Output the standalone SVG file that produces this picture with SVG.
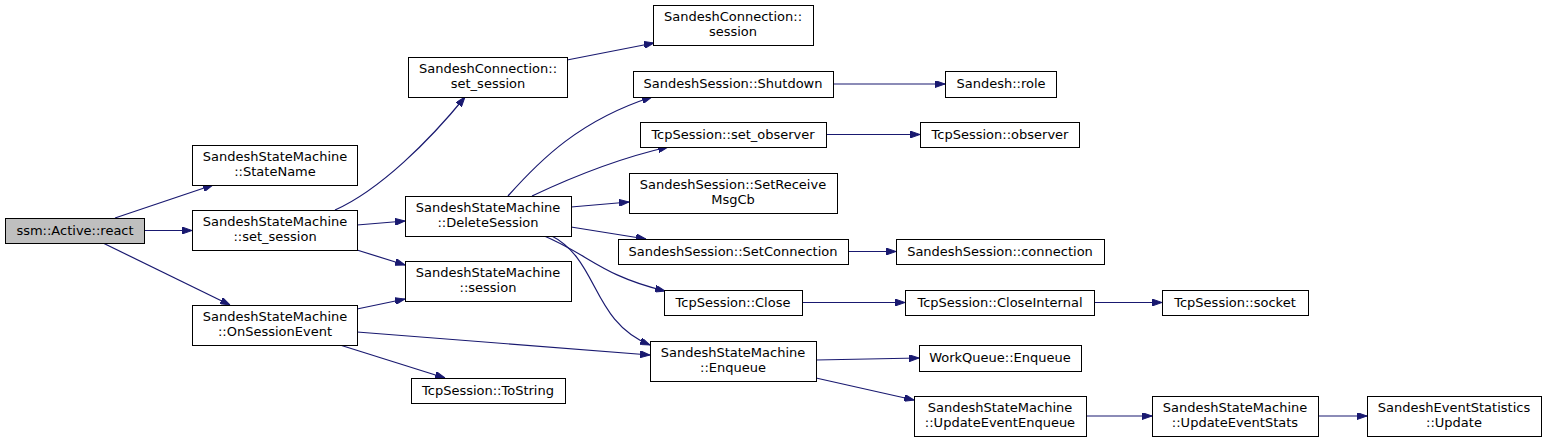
<svg xmlns="http://www.w3.org/2000/svg" width="1547" height="441" viewBox="0 0 1547 441">
<style>
.n rect{fill:#fff;stroke:#000;stroke-width:1}
.n.root rect{fill:#bfbfbf}
.n text{font-family:"DejaVu Sans",sans-serif;font-size:13px;text-anchor:middle;fill:#000}
.e path{fill:none;stroke:#191970;stroke-width:1.2;marker-end:url(#ah)}
</style>
<defs>
<marker id="ah" viewBox="0 0 10 7" refX="10" refY="3.5" markerWidth="10" markerHeight="7" markerUnits="userSpaceOnUse" orient="auto">
<path d="M0,0 L10,3.5 L0,7 z" fill="#191970" stroke="#191970"/>
</marker>
</defs>
<rect width="1547" height="441" fill="#fff"/>
<g class="e" id="connectors">
<path d="M115,218 L213,185"/>
<path d="M144,230.5 L192,230.5"/>
<path d="M103,243 L230,305"/>
<path d="M335,210 C380,190 430,140 465,97"/>
<path d="M357,225 L405,221"/>
<path d="M357,250 L405,265"/>
<path d="M357,309 L405,299"/>
<path d="M357,332 L650,355"/>
<path d="M340,345 L445,378"/>
<path d="M567,60 L654,43"/>
<path d="M508,196 C540,160 580,120 652,97"/>
<path d="M532,196 C570,178 620,158 668,147"/>
<path d="M571,207 L629,202"/>
<path d="M571,227 L646,239"/>
<path d="M542,235 C590,255 600,275 665,291"/>
<path d="M550,235 C600,260 590,320 650,345"/>
<path d="M833,84 L945,84"/>
<path d="M826,134.5 L920,134.5"/>
<path d="M848,251.5 L896,251.5"/>
<path d="M802,302.5 L905,302.5"/>
<path d="M1094,302.5 L1162,302.5"/>
<path d="M816,360 L919,358"/>
<path d="M816,378 L914,400"/>
<path d="M1086,416 L1152,416"/>
<path d="M1318,416 L1367,416"/>
</g>
<g class="n root" id="n_react"><rect x="5.5" y="218.5" width="139" height="25"/><text x="75" y="235">ssm::Active::react</text></g>
<g class="n" id="n_statename"><rect x="192.5" y="145.5" width="165" height="40"/><text x="275" y="161">SandeshStateMachine</text><text x="275" y="176">::StateName</text></g>
<g class="n" id="n_set_session"><rect x="192.5" y="210.5" width="165" height="40"/><text x="275" y="226">SandeshStateMachine</text><text x="275" y="241">::set_session</text></g>
<g class="n" id="n_onsessionevent"><rect x="192.5" y="305.5" width="165" height="40"/><text x="275" y="321">SandeshStateMachine</text><text x="275" y="336">::OnSessionEvent</text></g>
<g class="n" id="n_sc_set_session"><rect x="408.5" y="57.5" width="159" height="40"/><text x="488" y="73">SandeshConnection::</text><text x="488" y="88">set_session</text></g>
<g class="n" id="n_sc_session"><rect x="653.5" y="5.5" width="160" height="40"/><text x="733" y="21">SandeshConnection::</text><text x="733" y="36">session</text></g>
<g class="n" id="n_shutdown"><rect x="633.5" y="71.5" width="200" height="26"/><text x="733" y="88">SandeshSession::Shutdown</text></g>
<g class="n" id="n_set_observer"><rect x="640.5" y="122.5" width="186" height="25"/><text x="733" y="139">TcpSession::set_observer</text></g>
<g class="n" id="n_setreceive"><rect x="629.5" y="173.5" width="208" height="40"/><text x="733" y="189">SandeshSession::SetReceive</text><text x="733" y="204">MsgCb</text></g>
<g class="n" id="n_deletesession"><rect x="405.5" y="196.5" width="166" height="40"/><text x="488" y="212">SandeshStateMachine</text><text x="488" y="227">::DeleteSession</text></g>
<g class="n" id="n_setconnection"><rect x="618.5" y="239.5" width="230" height="25"/><text x="733" y="256">SandeshSession::SetConnection</text></g>
<g class="n" id="n_ssm_session"><rect x="405.5" y="261.5" width="166" height="40"/><text x="488" y="277">SandeshStateMachine</text><text x="488" y="292">::session</text></g>
<g class="n" id="n_close"><rect x="664.5" y="290.5" width="138" height="25"/><text x="733" y="307">TcpSession::Close</text></g>
<g class="n" id="n_enqueue"><rect x="650.5" y="341.5" width="166" height="40"/><text x="733" y="357">SandeshStateMachine</text><text x="733" y="372">::Enqueue</text></g>
<g class="n" id="n_tostring"><rect x="411.5" y="378.5" width="154" height="25"/><text x="488" y="395">TcpSession::ToString</text></g>
<g class="n" id="n_role"><rect x="945.5" y="71.5" width="111" height="26"/><text x="1001" y="88">Sandesh::role</text></g>
<g class="n" id="n_observer"><rect x="920.5" y="122.5" width="159" height="25"/><text x="1000" y="139">TcpSession::observer</text></g>
<g class="n" id="n_connection"><rect x="896.5" y="239.5" width="208" height="25"/><text x="1000" y="256">SandeshSession::connection</text></g>
<g class="n" id="n_closeinternal"><rect x="905.5" y="290.5" width="189" height="25"/><text x="1000" y="307">TcpSession::CloseInternal</text></g>
<g class="n" id="n_socket"><rect x="1162.5" y="290.5" width="146" height="25"/><text x="1235" y="307">TcpSession::socket</text></g>
<g class="n" id="n_wq_enqueue"><rect x="919.5" y="345.5" width="162" height="26"/><text x="1000" y="362">WorkQueue::Enqueue</text></g>
<g class="n" id="n_updateeventenqueue"><rect x="914.5" y="396.5" width="172" height="40"/><text x="1000" y="412">SandeshStateMachine</text><text x="1000" y="427">::UpdateEventEnqueue</text></g>
<g class="n" id="n_updateeventstats"><rect x="1152.5" y="396.5" width="166" height="40"/><text x="1235" y="412">SandeshStateMachine</text><text x="1235" y="427">::UpdateEventStats</text></g>
<g class="n" id="n_update"><rect x="1367.5" y="396.5" width="174" height="40"/><text x="1454" y="412">SandeshEventStatistics</text><text x="1454" y="427">::Update</text></g>
</svg>
